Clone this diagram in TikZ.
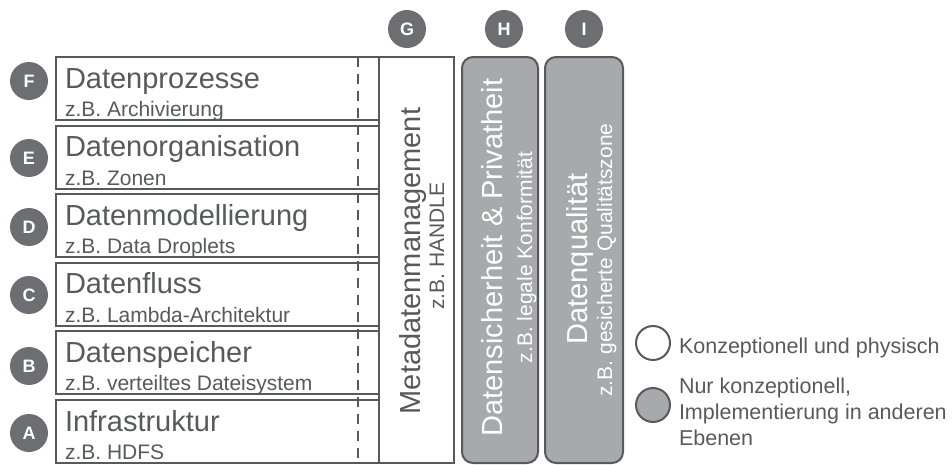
\documentclass[tikz,border=0pt]{standalone}
\usepackage{fontspec}
\setmainfont{Liberation Sans}
\definecolor{linegray}{HTML}{58595B}
\definecolor{textgray}{HTML}{58595B}
\definecolor{badgegray}{HTML}{6D6E71}
\definecolor{fillgray}{HTML}{A7A9AC}
\newcommand{\titlefont}{\fontsize{29}{34}\selectfont}
\newcommand{\subfont}{\fontsize{21}{25}\selectfont}
\newcommand{\legendfont}{\fontsize{21.5}{26}\selectfont}
\begin{document}
\begin{tikzpicture}[x=1pt,y=-1pt,
  every node/.style={inner sep=0pt, outer sep=0pt},
  layerbox/.style={draw=linegray, line width=2pt, rectangle, minimum width=323pt,
    minimum height=63pt, anchor=north west},
  colbox/.style={draw=linegray, line width=2pt, rectangle, anchor=north west},
  softbox/.style={draw=linegray, fill=fillgray, line width=2pt, rectangle,
    rounded corners=11pt, anchor=north west},
  badge/.style={circle, fill=badgegray, minimum size=38pt, text=white,
    font=\bfseries\fontsize{18}{18}\selectfont},
  title/.style={anchor=base west, text=textgray, font=\titlefont},
  subtitle/.style={anchor=base west, text=textgray, font=\subfont},
  vtitle/.style={anchor=base, rotate=90, font=\titlefont},
  vsub/.style={anchor=base, rotate=90, font=\subfont},
  legdot/.style={circle, draw=linegray, line width=2pt, minimum size=34pt},
  legtext/.style={text=textgray, font=\legendfont, align=left},
  separator/.style={draw=linegray, line width=2pt, dash pattern=on 10pt off 7pt}
]
\useasboundingbox (0,0) rectangle (952,464);

% layer boxes, bottom (A) to top (F)
\node[layerbox] (boxF) at (56,57) {};
\node[layerbox] (boxE) at (56,125.6) {};
\node[layerbox] (boxD) at (56,194.2) {};
\node[layerbox] (boxC) at (56,262.8) {};
\node[layerbox] (boxB) at (56,331.4) {};
\node[layerbox] (boxA) at (56,400) {};

\node[title] (tF) at (65,88) {Datenprozesse};
\node[subtitle] (sF) at (65,116.5) {z.B. Archivierung};
\node[title] (tE) at (65,156.6) {Datenorganisation};
\node[subtitle] (sE) at (65,185.1) {z.B. Zonen};
\node[title] (tD) at (65,225.2) {Datenmodellierung};
\node[subtitle] (sD) at (65,253.7) {z.B. Data Droplets};
\node[title] (tC) at (65,293.8) {Datenfluss};
\node[subtitle] (sC) at (65,322.3) {z.B. Lambda-Architektur};
\node[title] (tB) at (65,362.4) {Datenspeicher};
\node[subtitle] (sB) at (65,390.9) {z.B. verteiltes Dateisystem};
\node[title] (tA) at (65,431) {Infrastruktur};
\node[subtitle] (sA) at (65,459.5) {z.B. HDFS};

% dashed boundary across all layers
\coordinate (dtop) at (358,57);
\coordinate (dbot) at (358,464);
\draw[separator] (dtop) -- (dbot);

% vertical columns
\node[colbox, minimum width=75pt, minimum height=406pt] (meta) at (379,57) {};
\node[softbox, minimum width=76pt, minimum height=406pt] (priv) at (462,57) {};
\node[softbox, minimum width=78pt, minimum height=406pt] (qual) at (545,57) {};

\node[vtitle, text=textgray] (metaT) at (420,261) {Metadatenmanagement};
\node[vsub, text=textgray] (metaS) at (444,246) {z.B. HANDLE};
\node[vtitle, text=white] (privT) at (502,257.5) {Datensicherheit \& Privatheit};
\node[vsub, text=white] (privS) at (532,257.5) {z.B. legale Konformität};
\node[vtitle, text=white] (qualT) at (587,259) {Datenqualität};
\node[vsub, text=white] (qualS) at (612,260) {z.B. gesicherte Qualitätszone};

% letter badges
\node[badge] (bF) at (29,81) {F};
\node[badge] (bE) at (29,158) {E};
\node[badge] (bD) at (29,227) {D};
\node[badge] (bC) at (29,295) {C};
\node[badge] (bB) at (29,366) {B};
\node[badge] (bA) at (29,433) {A};
\node[badge] (bG) at (407,29) {G};
\node[badge] (bH) at (504,29) {H};
\node[badge] (bI) at (584,29) {I};

% legend
\node[legdot, fill=white] (legW) at (653,343) {};
\node[legtext, anchor=base west] (legWT) at (679,353) {Konzeptionell und physisch};
\node[legdot, fill=fillgray] (legG) at (653,405) {};
\node[legtext, anchor=north west] (legGT) at (679,378.3)
  {Nur konzeptionell,\\Implementierung in anderen\\Ebenen};
\end{tikzpicture}
\end{document}
